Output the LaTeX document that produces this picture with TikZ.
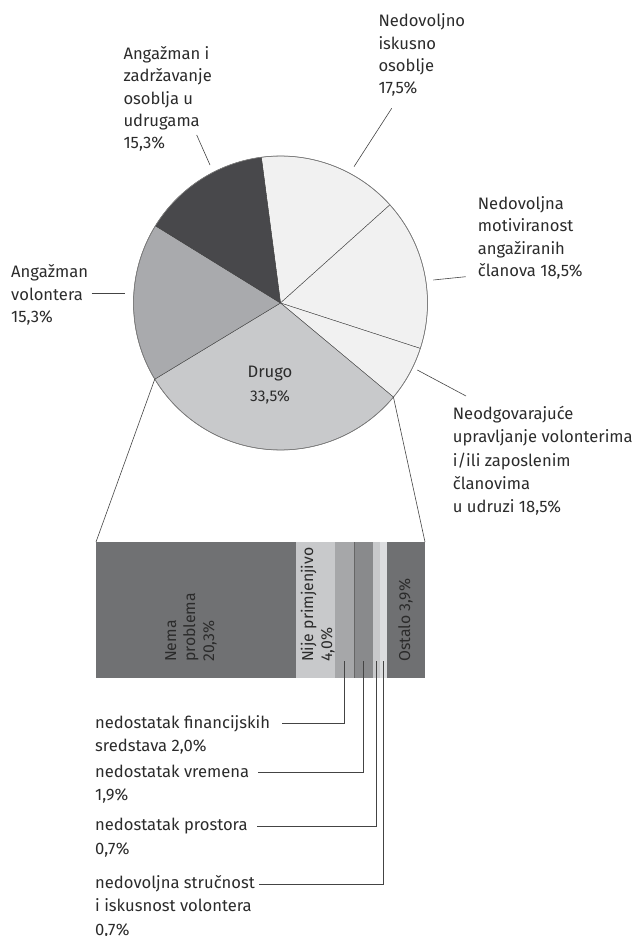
\documentclass[tikz,border=0pt]{standalone}
\usepackage{fontspec}
\setmainfont{Fira Sans}
\definecolor{txt}{HTML}{2B2B2B}
\definecolor{lin}{HTML}{444444}
\definecolor{pdark}{HTML}{48484B}
\definecolor{pmid}{HTML}{A9AAAD}
\definecolor{pdrugo}{HTML}{C8C9CB}
\definecolor{plight}{HTML}{F1F1F1}
\definecolor{bnema}{HTML}{707173}
\definecolor{bnije}{HTML}{C8C9CB}
\definecolor{bfin}{HTML}{A6A7A9}
\definecolor{bvrem}{HTML}{898A8C}
\definecolor{bpros}{HTML}{C8C9CB}
\definecolor{bstr}{HTML}{DCDDDF}
\definecolor{bost}{HTML}{6F7072}
\begin{document}
\begin{tikzpicture}[x=1pt,y=-1pt,
  lbl/.style={anchor=base west, align=left, inner sep=0, font=\fontsize{16.6}{22.45}\selectfont, text=txt},
  lblw/.style={lbl, font=\fontsize{16.6}{23.3}\selectfont},
  barlbl/.style={rotate=90, anchor=base west, align=left, inner sep=0, font=\fontsize{15.8}{19}\selectfont, text=txt},
  lead/.style={draw=lin, line width=0.6pt},
  slice/.style={draw=lin, line width=0.4pt}]
\useasboundingbox (0,0) rectangle (636,936);

% ---------- pie ----------
\begin{scope}[shift={(280.5,303)}, yscale=-1]
  \filldraw[slice, fill=plight] (0,0) -- (41.9:147) arc (41.9:97.5:147) -- cycle;
  \filldraw[slice, fill=plight] (0,0) -- (-18:147) arc (-18:41.9:147) -- cycle;
  \filldraw[slice, fill=plight] (0,0) -- (-39.8:147) arc (-39.8:-18:147) -- cycle;
  \filldraw[slice, fill=pdrugo] (0,0) -- (-148.8:147) arc (-148.8:-39.8:147) -- cycle;
  \filldraw[slice, fill=pmid] (0,0) -- (148.3:147) arc (148.3:211.2:147) -- cycle;
  \filldraw[slice, fill=pdark] (0,0) -- (97.5:147) arc (97.5:148.3:147) -- cycle;
  \draw[draw=gray, line width=0.6pt] (0,0) circle (147);
  \coordinate (pL) at (211.2:147);
  \coordinate (pR) at (-39.8:147);
\end{scope}

\node[anchor=base, inner sep=0, font=\fontsize{16.6}{20}\selectfont, text=txt] (drugo) at (270,377.5) {Drugo};
\node[anchor=base, inner sep=0, font=\fontsize{15.5}{20}\selectfont, text=txt] (drugop) at (270,401.5) {33,5\%};

% ---------- pie labels (anchored at the baseline of the last line) ----------
\node[lbl] (angz) at (123.3,149) {Angažman i\\zadržavanje\\osoblja u\\udrugama\\15,3\%};
\node[lbl] (nedi) at (378.3,94) {Nedovoljno\\iskusno\\osoblje\\17,5\%};
\node[lbl] (nedm) at (477.7,276.7) {Nedovoljna\\motiviranost\\angažiranih\\članova 18,5\%};
\node[lblw] (neod) at (452.7,512.7) {Neodgovarajuće\\upravljanje volonterima\\i/ili zaposlenim\\članovima\\u udruzi 18,5\%};
\node[lbl] (angv) at (11,322.7) {Angažman\\volontera\\15,3\%};

\coordinate (a1) at (196.7,135);   \coordinate (a2) at (210,165);
\coordinate (b1) at (391.7,108.3); \coordinate (b2) at (354,166.7);
\coordinate (c1) at (465.7,276.7); \coordinate (c2) at (433.3,280);
\coordinate (d1) at (466,396);     \coordinate (d2) at (417.3,370);
\coordinate (e1) at (91.7,293.3);  \coordinate (e2) at (125,293.3);
\draw[lead] (a1) -- (a2);
\draw[lead] (b1) -- (b2);
\draw[lead] (c1) -- (c2);
\draw[lead] (d1) -- (d2);
\draw[lead] (e1) -- (e2);

% ---------- bar ----------
\fill[bnema] (96,542) rectangle (295.7,678);
\fill[bnije] (295.7,542) rectangle (335,678);
\fill[bfin]  (335,542) rectangle (354,678);
\fill[bvrem] (354,542) rectangle (373,678);
\fill[bpros] (373,542) rectangle (379.7,678);
\fill[bstr]  (379.7,542) rectangle (386.7,678);
\fill[bost]  (386.7,542) rectangle (425,678);
\draw[draw=gray!80!black, line width=0.3pt] (354,542) -- (354,678);
\coordinate (bTL) at (96,542);
\coordinate (bTR) at (425,542);
\draw[lead] (pL) -- (bTL);
\draw[lead] (pR) -- (bTR);

\node[barlbl] (nema) at (214,662) {Nema\\problema\\20,3\%};
\node[barlbl] (nije) at (332,662) {Nije primjenjivo\\4,0\%};
\node[barlbl] (ost) at (410,662) {Ostalo 3,9\%};

% ---------- bottom labels ----------
\node[lblw] (fin) at (95,751.7) {nedostatak financijskih\\sredstava 2,0\%};
\node[lblw] (vrem) at (95,800.7) {nedostatak vremena\\1,9\%};
\node[lblw] (pros) at (95,854) {nedostatak prostora\\0,7\%};
\node[lblw] (str) at (95,935) {nedovoljna stručnost\\i iskusnost volontera\\0,7\%};

\coordinate (s3) at (344.5,661); \coordinate (t3) at (281.7,723.3);
\coordinate (s4) at (363.5,661); \coordinate (t4) at (258,772);
\coordinate (s5) at (376.5,661); \coordinate (t5) at (256.7,826);
\coordinate (s6) at (383.5,661); \coordinate (t6) at (259,884.3);
\draw[lead] (s3) |- (t3);
\draw[lead] (s4) |- (t4);
\draw[lead] (s5) |- (t5);
\draw[lead] (s6) |- (t6);
\end{tikzpicture}
\end{document}
